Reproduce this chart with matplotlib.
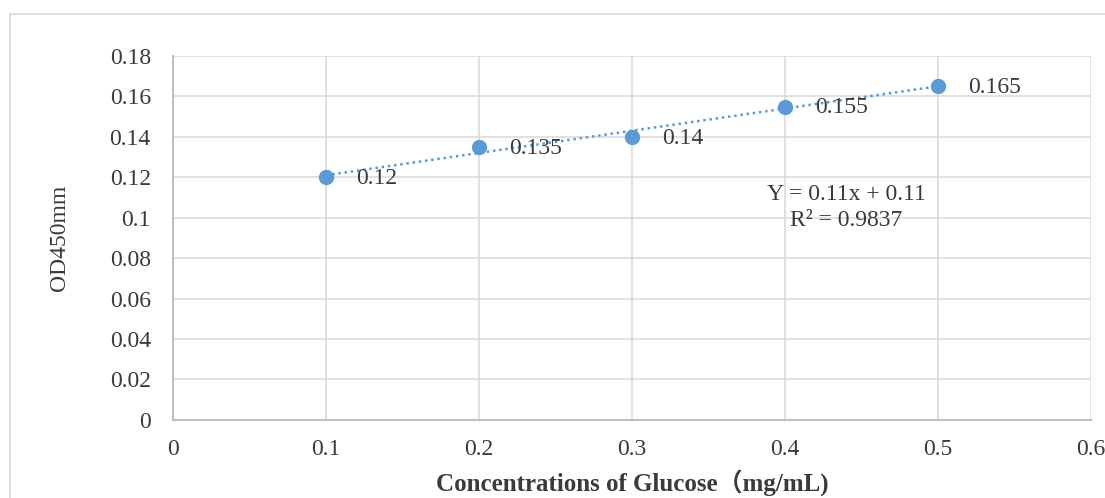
import numpy as np
import matplotlib.pyplot as plt
from matplotlib.patches import Rectangle

# Datos de la curva patrón
conc = [0.1, 0.2, 0.3, 0.4, 0.5]
od = [0.12, 0.135, 0.14, 0.155, 0.165]
etiquetas = ["0.12", "0.135", "0.14", "0.155", "0.165"]
x_ticks = [0, 0.1, 0.2, 0.3, 0.4, 0.5, 0.6]
x_labels = ["0", "0.1", "0.2", "0.3", "0.4", "0.5", "0.6"]
y_ticks = [0, 0.02, 0.04, 0.06, 0.08, 0.1, 0.12, 0.14, 0.16, 0.18]
y_labels = ["0", "0.02", "0.04", "0.06", "0.08", "0.1", "0.12", "0.14", "0.16", "0.18"]

plt.rcParams['font.family'] = ['Liberation Serif', 'DejaVu Serif']

fig = plt.figure(figsize=(11.05, 4.98), dpi=100)
fig.patches.append(Rectangle((0.009, -0.05), 1.2, 1.022, transform=fig.transFigure,
                             fill=False, edgecolor="#d9d9d9", linewidth=1.2))
ax = fig.add_axes([0.1566, 0.157, 0.8304, 0.7306])

azul = "#5b9bd5"
gris = "#3a3a3a"

# Ajuste lineal (línea de tendencia)
m, b = np.polyfit(conc, od, 1)
xt = np.array([min(conc), max(conc)])
ax.plot(xt, m * xt + b, linestyle=(0, (1, 1.5)), color=azul, linewidth=1.8, zorder=3)
ax.scatter(conc, od, s=100, color=azul, zorder=4)

for x, y, t in zip(conc, od, etiquetas):
    ax.annotate(t, (x, y), xytext=(22, -1), textcoords="offset points",
                ha="left", va="center", fontsize=17, color=gris)

ax.text(0.44, 0.105, "Y = 0.11x + 0.11\nR² = 0.9837", ha="center", va="center",
        fontsize=17, color=gris, linespacing=1.3)

ax.set_xlim(0, 0.6)
ax.set_ylim(0, 0.18)
ax.set_xticks(x_ticks)
ax.set_xticklabels(x_labels)
ax.set_yticks(y_ticks)
ax.set_yticklabels(y_labels)
ax.tick_params(length=0, labelsize=17, labelcolor=gris)
ax.tick_params(axis="y", pad=16)
ax.tick_params(axis="x", pad=14)
ax.grid(True, color="#d9d9d9", linewidth=1.1)
ax.set_axisbelow(True)
for s in ["top", "right"]:
    ax.spines[s].set_visible(False)
ax.spines["left"].set_color("#bfbfbf")
ax.spines["bottom"].set_color("#bfbfbf")
ax.spines["left"].set_linewidth(1.5)
ax.spines["bottom"].set_linewidth(1.5)

ax.set_xlabel("Concentrations of Glucose（mg/mL)", fontsize=18, fontweight="bold",
              color=gris, family=['Liberation Serif', 'Noto Sans CJK SC'])
ax.xaxis.set_label_coords(0.5, -0.135)
ax.set_ylabel("OD450mm", fontsize=17, color=gris)
ax.yaxis.set_label_coords(-0.112, 0.5)

fig.savefig("out.png", dpi=100)
